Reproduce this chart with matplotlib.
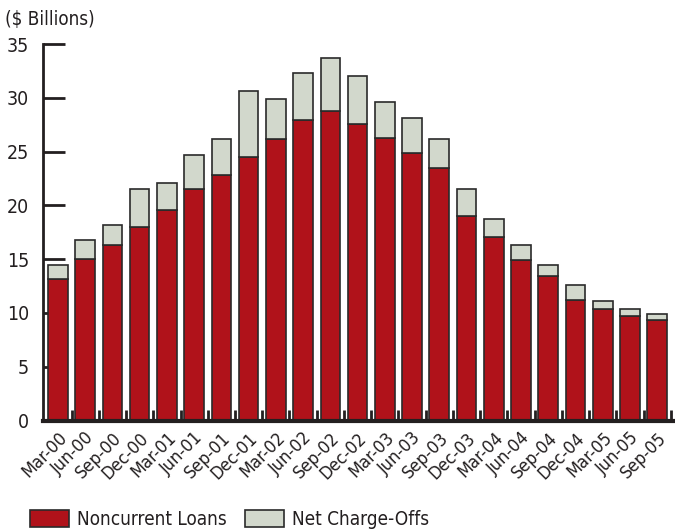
import matplotlib
matplotlib.use("Agg")
import matplotlib.pyplot as plt
import numpy as np

quarters = ["Mar-00", "Jun-00", "Sep-00", "Dec-00", "Mar-01", "Jun-01", "Sep-01", "Dec-01",
            "Mar-02", "Jun-02", "Sep-02", "Dec-02", "Mar-03", "Jun-03", "Sep-03", "Dec-03",
            "Mar-04", "Jun-04", "Sep-04", "Dec-04", "Mar-05", "Jun-05", "Sep-05"]
noncurrent = [13.2, 15.0, 16.3, 18.0, 19.6, 21.5, 22.8, 24.5, 26.2, 27.9, 28.8, 27.6,
              26.3, 24.9, 23.5, 19.0, 17.1, 14.9, 13.4, 11.2, 10.4, 9.7, 9.3]
chargeoffs = [1.3, 1.8, 1.9, 3.5, 2.5, 3.2, 3.4, 6.1, 3.7, 4.4, 4.9, 4.4,
              3.3, 3.2, 2.7, 2.5, 1.6, 1.4, 1.1, 1.4, 0.7, 0.7, 0.6]
yticks = [0, 5, 10, 15, 20, 25, 30, 35]

RED = "#B0121A"
GRAY = "#D2D8CC"
EDGE = "#2a2a2a"
TXT = "#231f20"

plt.rcParams["font.family"] = ["DejaVu Sans"]
plt.rcParams["font.stretch"] = "condensed"

fig = plt.figure(figsize=(6.75, 5.29), dpi=100)
ax = fig.add_axes([43/675, 1 - 420.5/529, (673 - 43)/675, (420.5 - 44)/529])

x = np.arange(len(quarters))
ax.bar(x, noncurrent, width=0.72, color=RED, edgecolor=EDGE, linewidth=1.2, zorder=2,
       label="Noncurrent Loans")
ax.bar(x, chargeoffs, bottom=noncurrent, width=0.72, color=GRAY, edgecolor=EDGE,
       linewidth=1.2, zorder=2, label="Net Charge-Offs")

ax.set_xlim(-0.55, 22.58)
ax.set_ylim(0, 35)
for s in ["top", "right"]:
    ax.spines[s].set_visible(False)
ax.spines["left"].set_linewidth(2)
ax.spines["left"].set_color(TXT)
ax.spines["bottom"].set_linewidth(3)
ax.spines["bottom"].set_color(TXT)

ax.set_yticks(yticks)
ax.set_yticklabels([str(v) for v in yticks], fontsize=14, color=TXT)
ax.tick_params(axis="y", direction="in", length=16, width=2, color=TXT, pad=10)

ax.set_xticks(x + 0.5, minor=False)
ax.set_xticklabels([""] * len(x))
ax.tick_params(axis="x", direction="in", length=8, width=2, color=TXT)
ax.set_xticks(x, minor=True)
ax.set_xticklabels(quarters, minor=True, rotation=45, ha="right", va="top",
                   rotation_mode="anchor", fontsize=13, color=TXT)
ax.tick_params(axis="x", which="minor", length=0, pad=6)

fig.text(5/675, 1 - 20/529, "($ Billions)", fontsize=13.5, color=TXT,
         ha="left", va="center")

fig.legend(loc="lower left", bbox_to_anchor=(13/675, -17/529), ncol=2, frameon=False,
           fontsize=13.6, handlelength=2.05, handleheight=0.95, handletextpad=0.45,
           columnspacing=0.95, labelcolor=TXT)

fig.savefig("out.png", dpi=100)
